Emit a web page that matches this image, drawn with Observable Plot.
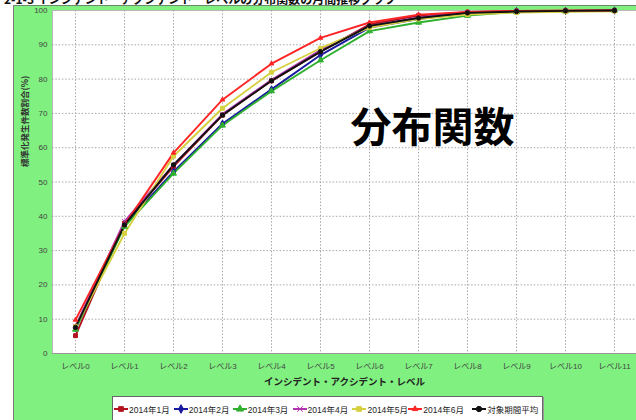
<!DOCTYPE html>
<html>
<head>
<meta charset="utf-8">
<script src="https://cdn.jsdelivr.net/npm/d3@7"></script>
<script src="https://cdn.jsdelivr.net/npm/@observablehq/plot@0.6"></script>
<style>
  html, body { margin: 0; padding: 0; background: #ffffff; width: 636px; height: 420px; overflow: hidden; }
  body { font-family: "Liberation Sans", "Noto Sans CJK JP", sans-serif; }
  #title { height: 5px; overflow: hidden; white-space: nowrap; }
  #title span { display: block; margin-top: -8px; font: bold 12px/13px "Noto Sans CJK JP", sans-serif; color: #111; padding-left: 4px; }
  #panel { margin-left: 13px; width: 623px; height: 415px; background: #80F080; border-left: 1px solid #7a7a7a; border-top: 1px solid #6a8a6a; box-sizing: border-box; position: relative; }
  #legend { position: absolute; left: 98px; top: 390px; width: 431px; height: 30px; background: #fff; border: 1px solid #666; box-shadow: 1px 1px 0 #999; display: flex; align-items: center; box-sizing: border-box; padding-left: 1px; padding-bottom: 4px; }
  .item { display: flex; align-items: center; font: 8.5px "Liberation Sans", "Noto Sans CJK JP", sans-serif; color: #222; white-space: nowrap; }
  .item svg { margin-right: 1px; }
</style>
</head>
<body>
<div id="title"><span>2-1-3 インシデント・アクシデント・レベルの分布関数の月間推移グラフ</span></div>
<div id="panel"><div id="chart"></div><div id="legend"></div></div>
<script>
const levels = ["レベル0","レベル1","レベル2","レベル3","レベル4","レベル5","レベル6","レベル7","レベル8","レベル9","レベル10","レベル11"];
const seriesNames = ["2014年1月","2014年2月","2014年3月","2014年4月","2014年5月","2014年6月","対象期間平均"];
const jan = [5.2, 38.0, 54.5, 69.5, 79.5, 88.0, 96.0, 98.5, 99.5, 99.8, 99.9, 100];
const feb = [7.5, 37.5, 53.0, 67.0, 77.0, 87.0, 95.0, 97.5, 99.3, 99.8, 99.9, 100];
const mar = [7.0, 37.0, 52.5, 66.5, 76.5, 85.5, 94.0, 96.5, 98.5, 99.6, 99.8, 100];
const apr = [8.0, 38.5, 55.0, 69.8, 79.8, 88.5, 95.5, 98.0, 99.4, 99.8, 99.9, 100];
const may = [7.8, 35.0, 57.5, 71.5, 82.0, 89.0, 95.0, 97.5, 98.8, 99.4, 99.6, 99.8];
const jun = [9.8, 37.5, 58.5, 74.0, 84.5, 92.0, 96.5, 98.8, 99.6, 99.9, 100, 100];
const avg = [7.6, 37.5, 55.0, 69.5, 79.5, 88.0, 95.5, 97.8, 99.3, 99.7, 99.9, 100];
const yTicks = [0,10,20,30,40,50,60,70,80,90,100];

const seriesValues = [jan, feb, mar, apr, may, jun, avg];
const colors = ["#B3121F","#1A1AA0","#2FB02F","#B035B0","#D6D040","#FF2525","#111111"];
const symbols = ["square","diamond","triangle","times","square","triangle2","circle"];

const rows = seriesNames.flatMap((name, i) =>
  levels.map((lv, j) => ({series: name, level: lv, value: seriesValues[i][j]})));

const chart = Plot.plot({
  width: 622,
  height: 387,
  marginLeft: 38,
  marginRight: 0,
  marginTop: 4,
  marginBottom: 40,
  style: {background: "transparent", fontFamily: "'Liberation Sans','Noto Sans CJK JP',sans-serif", fontSize: "8px", color: "#333"},
  x: {type: "point", domain: levels, padding: 0.41, label: null},
  y: {domain: [0, 100], label: null},
  color: {domain: seriesNames, range: colors},
  symbol: {domain: seriesNames, range: symbols},
  marks: [
    Plot.frame({fill: "white", stroke: "#b8b8b8"}),
    Plot.gridX(levels, {stroke: "#999", strokeOpacity: 0.85, strokeDasharray: "1.5,1.8"}),
    Plot.gridY(yTicks.slice(1, -1), {stroke: "#999", strokeOpacity: 0.85, strokeDasharray: "1.5,1.8"}),
    Plot.ruleY([0], {stroke: "#999"}),
    Plot.axisX({tickSize: 0, tickPadding: 10, fontSize: 8, fill: "#444"}),
    Plot.axisY(yTicks, {tickSize: 0, tickPadding: 5, fontSize: 8, fill: "#444", label: null}),
    Plot.line(rows, {x: "level", y: "value", z: "series", stroke: "series", strokeWidth: 1.9}),
    Plot.dot(rows, {x: "level", y: "value", symbol: "series", fill: "series", stroke: "series", r: 2.2, strokeWidth: 1}),
    Plot.text(["分布関数"], {frameAnchor: "top-left", dx: 380, dy: 118, textAnchor: "middle", lineAnchor: "middle", fontSize: 41, fontWeight: "bold", fill: "#000", fontFamily: "Noto Sans CJK JP"}),
    Plot.text(["インシデント・アクシデント・レベル"], {frameAnchor: "bottom", dy: 31, fontSize: 9.5, fontWeight: "bold", fill: "#222", fontFamily: "Noto Sans CJK JP"}),
    Plot.text(["標準化発生件数割合(%)"], {frameAnchor: "left", rotate: -90, dx: -27, dy: -15, fontSize: 8.5, fontWeight: "bold", fill: "#333", fontFamily: "Noto Sans CJK JP"})
  ]
});
document.getElementById("chart").appendChild(chart);

const legend = document.getElementById("legend");
const widths = [60, 59, 60, 60, 56, 64, 70];
seriesNames.forEach((name, i) => {
  const item = document.createElement("div");
  item.className = "item";
  item.style.width = widths[i] + "px";
  const sym = d3.symbol(
    ({square: d3.symbolSquare, diamond: d3.symbolDiamond, triangle: d3.symbolTriangle, times: d3.symbolTimes, triangle2: d3.symbolTriangle2, circle: d3.symbolCircle})[symbols[i]], 22)();
  item.innerHTML = `<svg width="14" height="10"><line x1="0" x2="14" y1="5" y2="5" stroke="${colors[i]}" stroke-width="2"/><path d="${sym}" transform="translate(7,5)" fill="${colors[i]}" stroke="${colors[i]}"/></svg><span>${name}</span>`;
  legend.appendChild(item);
});
</script>
</body>
</html>
